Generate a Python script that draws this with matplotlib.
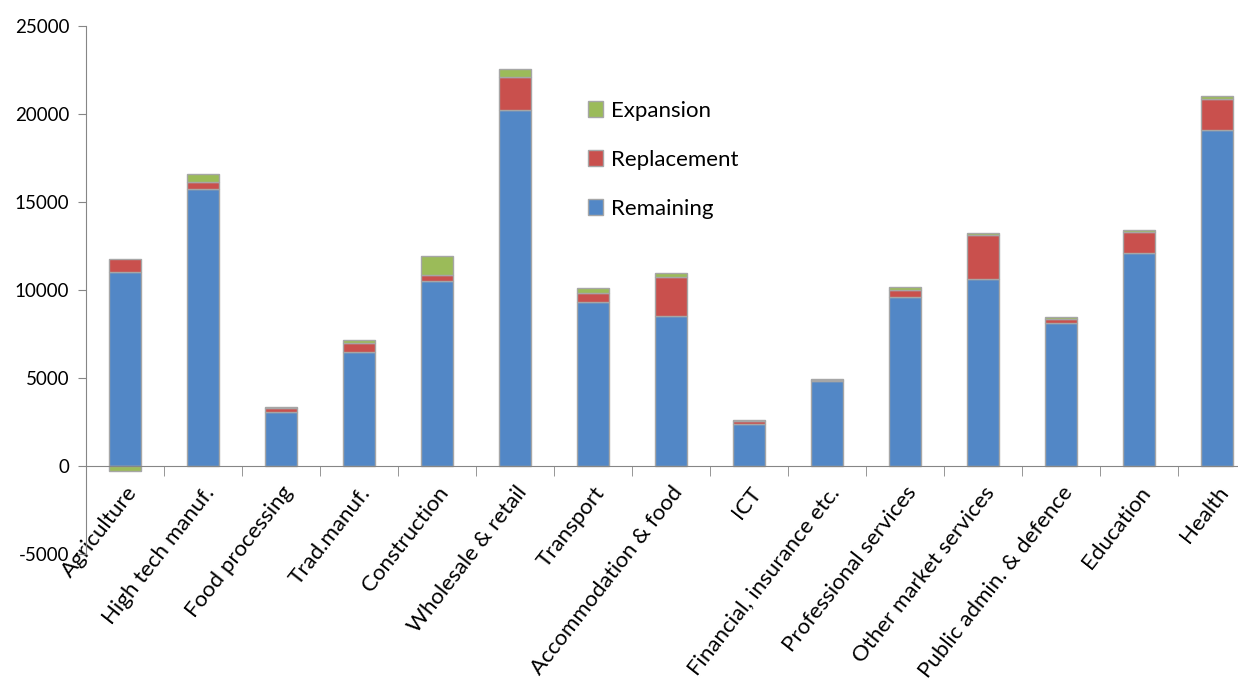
import matplotlib
matplotlib.use("Agg")
import matplotlib.pyplot as plt
import numpy as np

plt.rcParams['font.family'] = ['Lato', 'DejaVu Sans']
plt.rcParams['axes.unicode_minus'] = False

sectors = ["Agriculture", "High tech manuf.", "Food processing", "Trad.manuf.",
           "Construction", "Wholesale & retail", "Transport", "Accommodation & food",
           "ICT", "Financial, insurance etc.", "Professional services",
           "Other market services", "Public admin. & defence", "Education", "Health"]
remaining = [11000, 15730, 3070, 6480, 10510, 20220, 9310, 8520,
             2390, 4830, 9600, 10620, 8120, 12100, 19080]
replacement = [750, 400, 200, 500, 350, 1870, 500, 2200,
               150, 50, 400, 2500, 230, 1200, 1760]
expansion = [-300, 450, 60, 200, 1080, 450, 300, 250,
             100, 60, 150, 120, 100, 100, 170]

blue = "#5287C6"
red = "#C9504D"
green = "#9BBB59"
edge = "#A6A6A6"

fig = plt.figure(figsize=(12.38, 6.83), dpi=100)
ax = fig.add_axes([86 / 1238, 1 - 554 / 683, 1170 / 1238, (554 - 26) / 683])

x = np.arange(len(sectors))
w = 0.41
rem = np.array(remaining, dtype=float)
rep = np.array(replacement, dtype=float)
exp_ = np.array(expansion, dtype=float)

b1 = ax.bar(x, rem, w, color=blue, edgecolor=edge, linewidth=1, label="Remaining", zorder=3)
b2 = ax.bar(x, rep, w, bottom=rem, color=red, edgecolor=edge, linewidth=1, label="Replacement", zorder=3)
# negative expansion stacks down from zero, like Excel does
exp_bottom = np.where(exp_ >= 0, rem + rep, 0)
b3 = ax.bar(x, exp_, w, bottom=exp_bottom, color=green, edgecolor=edge, linewidth=1, label="Expansion", zorder=3)

ax.set_xlim(-0.5, len(sectors) - 0.5)
ax.set_ylim(-5000, 25000)
ax.set_yticks(np.arange(-5000, 25001, 5000))

for s in ["top", "right"]:
    ax.spines[s].set_visible(False)
ax.spines["left"].set_color("#868686")
ax.spines["bottom"].set_color("#868686")
ax.spines["bottom"].set_position(("data", 0))
ax.spines["bottom"].set_zorder(4)

ax.set_xticks(x)
ax.set_xticklabels(sectors, rotation=52, ha="right", va="top", rotation_mode="anchor", fontsize=16)
ax.set_xticks(np.arange(0.5, len(sectors) - 0.4, 1), minor=True)
ax.tick_params(axis="x", which="major", length=0, pad=12)
ax.tick_params(axis="x", which="minor", length=7, color="#868686", direction="out")
ax.tick_params(axis="y", length=6, color="#868686", labelsize=13.5, pad=6)

ax.legend(handles=[b3, b2, b1], loc="upper left", bbox_to_anchor=(579 / 1238, 1 - 92 / 683),
          bbox_transform=fig.transFigure, frameon=False, fontsize=16,
          handlelength=0.7, handleheight=0.7, handletextpad=0.35, labelspacing=1.3,
          borderaxespad=0)

fig.savefig("out.png", dpi=100)
